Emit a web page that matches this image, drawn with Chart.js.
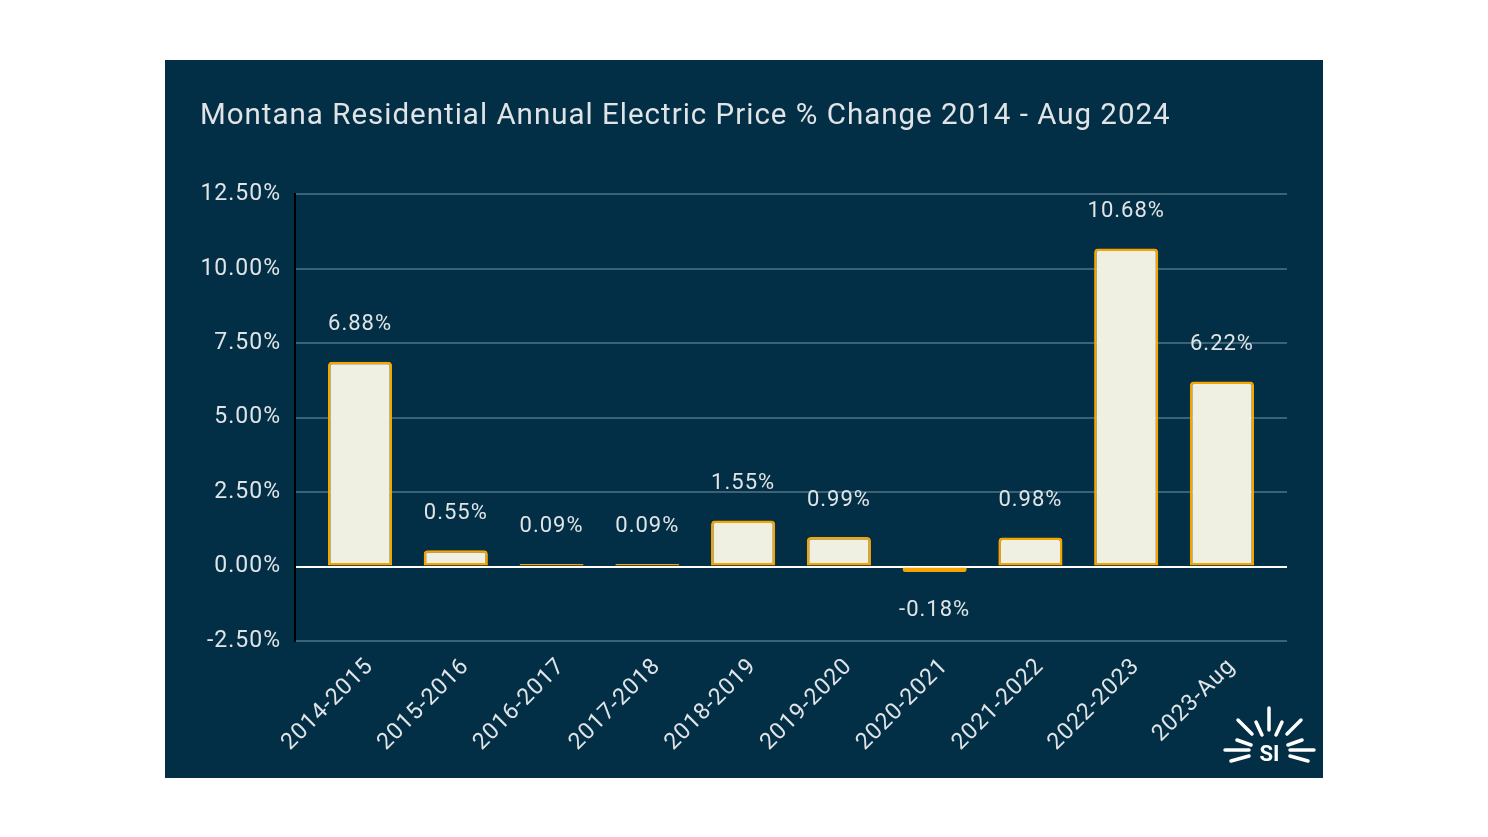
<!DOCTYPE html>
<html>
<head>
<meta charset="utf-8">
<script src="https://cdn.jsdelivr.net/npm/chart.js@4"></script>
<style>
  html, body { margin: 0; padding: 0; background: #fff; }
  #panel {
    position: absolute; left: 165px; top: 60px;
    width: 1158px; height: 718px; background: #022f45;
  }
  #logo { position: absolute; left: 1055px; top: 640px; }
</style>
</head>
<body>
<div id="panel">
  <canvas id="priceChart"></canvas>
  <svg id="logo" width="100" height="70" viewBox="0 0 100 70">
    <g stroke="#fff" stroke-width="3.5" stroke-linecap="round">
      <line x1="49" y1="8" x2="49" y2="30"/>
      <line x1="36" y1="22" x2="42" y2="35"/>
      <line x1="62" y1="22" x2="56" y2="35"/>
      <line x1="18" y1="20" x2="32" y2="34"/>
      <line x1="81" y1="20" x2="67" y2="34"/>
      <line x1="17" y1="40" x2="31" y2="45"/>
      <line x1="82" y1="40" x2="68" y2="45"/>
      <line x1="5" y1="50" x2="29" y2="50"/>
      <line x1="94" y1="50" x2="70" y2="50"/>
      <line x1="11" y1="61" x2="29" y2="56"/>
      <line x1="88" y1="61" x2="70" y2="56"/>
    </g>
    <text x="49.5" y="61" text-anchor="middle" fill="#fff" font-family="Roboto, sans-serif" font-weight="bold" font-size="22">SI</text>
  </svg>
</div>
<script>
const categories = ["2014-2015", "2015-2016", "2016-2017", "2017-2018", "2018-2019",
  "2019-2020", "2020-2021", "2021-2022", "2022-2023", "2023-Aug"];
const changes = [6.88, 0.55, 0.09, 0.09, 1.55, 0.99, -0.18, 0.98, 10.68, 6.22];
const yTicks = [-2.5, 0, 2.5, 5, 7.5, 10, 12.5];

const textColor = "#e1e4e6";
const gridColor = "#3a6377";

// the source chart's text is a little spaced out
const spacing = {
  id: "spacing",
  beforeUpdate(chart) { chart.ctx.letterSpacing = "1px"; },
  beforeDraw(chart) { chart.ctx.letterSpacing = "1px"; }
};

// value labels above (or below) each bar
const barLabels = {
  id: "barLabels",
  afterDatasetsDraw(chart) {
    const ctx = chart.ctx;
    const meta = chart.getDatasetMeta(0);
    ctx.save();
    ctx.font = "22px Roboto";
    ctx.fillStyle = textColor;
    ctx.textAlign = "center";
    ctx.textBaseline = "middle";
    meta.data.forEach((bar, i) => {
      const v = changes[i];
      const y = v >= 0 ? bar.y - 37 : bar.y + 39;
      ctx.fillText(v.toFixed(2) + "%", bar.x, y);
    });
    ctx.restore();
  }
};

new Chart(document.getElementById("priceChart"), {
  type: "bar",
  data: {
    datasets: [{
      data: categories.map((c, i) => ({ x: i, y: changes[i] })),
      backgroundColor: "#efefe2",
      borderColor: "#f5a400",
      borderWidth: 2.5,
      borderSkipped: false,
      borderRadius: c => (changes[c.dataIndex] >= 0
        ? { topLeft: 4, topRight: 4, bottomLeft: 0, bottomRight: 0 }
        : { topLeft: 0, topRight: 0, bottomLeft: 4, bottomRight: 4 }),
      categoryPercentage: 1,
      barPercentage: 0.67
    }]
  },
  options: {
    responsive: true,
    maintainAspectRatio: false,
    animation: false,
    layout: { padding: { left: 35, right: 36, top: 0, bottom: 18 } },
    plugins: {
      legend: { display: false },
      tooltip: { enabled: false },
      title: {
        display: true,
        text: "Montana Residential Annual Electric Price % Change 2014 - Aug 2024",
        align: "start",
        color: textColor,
        font: { family: "Roboto", size: 29.5, weight: "normal" },
        padding: { top: 39, bottom: 60 }
      }
    },
    scales: {
      x: {
        type: "linear",
        offset: false,
        min: -0.679,
        max: 9.679,
        afterBuildTicks: s => { s.ticks = categories.map((c, i) => ({ value: i })); },
        afterFit: s => { s.height = 119; },
        grid: { display: false, offset: false },
        border: { display: false },
        ticks: {
          color: textColor,
          font: { family: "Roboto", size: 23 },
          minRotation: 45,
          maxRotation: 45,
          padding: 4,
          labelOffset: 10,
          callback: v => categories[v]
        }
      },
      y: {
        min: -2.5,
        max: 12.5,
        afterBuildTicks: s => { s.ticks = yTicks.map(v => ({ value: v })); },
        afterFit: s => { s.width = 95; },
        grid: {
          drawTicks: false,
          lineWidth: 2,
          color: c => (c.tick && c.tick.value === 0 ? "#ffffff" : gridColor)
        },
        border: { display: true, color: "#000000", width: 2 },
        ticks: {
          color: textColor,
          font: { family: "Roboto", size: 23 },
          padding: 14,
          callback: v => v.toFixed(2) + "%"
        }
      }
    }
  },
  plugins: [spacing, barLabels]
});
</script>
</body>
</html>
